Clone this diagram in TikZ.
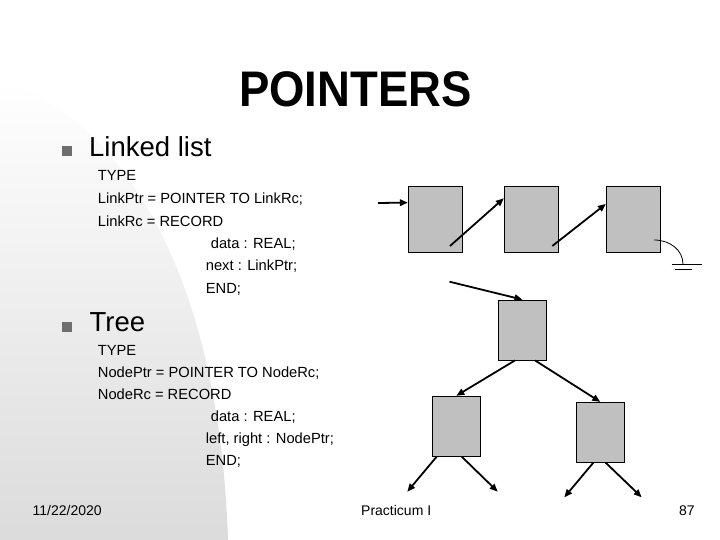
\documentclass[tikz,border=0pt]{standalone}
\usepackage{fontspec}
\setmainfont{Liberation Sans}
\usetikzlibrary{arrows.meta,calc}
\definecolor{boxgray}{HTML}{C0C0C0}
\definecolor{bulletgray}{HTML}{6E6E6E}
\begin{document}
\begin{tikzpicture}[x=1pt,y=-1pt,
  cell/.style={draw=black,line width=0.8pt,fill=boxgray,minimum width=54pt,minimum height=66pt,inner sep=0pt},
  tnode/.style={draw=black,line width=0.8pt,fill=boxgray,minimum width=48pt,minimum height=60pt,inner sep=0pt},
  ptr/.style={line width=1.8pt,-{Triangle[length=8pt,width=6.5pt]}},
  thin line/.style={line width=0.8pt},
  code/.style={anchor=base west,inner sep=0pt,font=\fontsize{14.7}{16}\selectfont},
  head/.style={anchor=base west,inner sep=0pt,font=\fontsize{27.5}{30}\selectfont},
  foot/.style={anchor=base west,inner sep=0pt,font=\fontsize{14}{16}\selectfont},
  bulletsq/.style={fill=bulletgray,minimum size=10pt,inner sep=0pt}]
\useasboundingbox (0,0) rectangle (720,540);
\fill[white] (0,0) rectangle (720,540);
\shade[top color=white,bottom color=black!14] (0,80) .. controls (100,110) and (218,240) .. (228,540) -- (0,540) -- cycle;

% title
\node[anchor=base,inner sep=0pt,font=\bfseries\fontsize{50}{56}\selectfont] (title) at (355.5,106.7) {\scalebox{0.91}[1]{POINTERS}};

% linked list text
\node[bulletsq] (bl1) at (67,151.5) {};
\node[head] (h1) at (89,156.7) {Linked list};
\node[code] (c1) at (97.7,181) {TYPE};
\node[code] (c2) at (97.7,203.5) {LinkPtr = POINTER TO LinkRc;};
\node[code] (c3) at (97.7,226) {LinkRc = RECORD};
\node[code] (c4) at (210.7,248.5) {data : REAL;};
\node[code] (c5) at (205.7,270) {next : LinkPtr;};
\node[code] (c6) at (205.7,293) {END;};

% tree text
\node[bulletsq] (bl2) at (67,326.5) {};
\node[head] (h2) at (89.5,331.7) {Tree};
\node[code] (d1) at (97.7,355) {TYPE};
\node[code] (d2) at (97.7,377) {NodePtr = POINTER TO NodeRc;};
\node[code] (d3) at (97.7,399) {NodeRc = RECORD};
\node[code] (d4) at (210.7,421) {data : REAL;};
\node[code] (d5) at (205.7,443) {left, right : NodePtr;};
\node[code] (d6) at (205.7,465) {END;};

% footer
\node[foot] (date) at (32.5,515) {11/22/2020};
\node[foot] (course) at (361,515) {Practicum I};
\node[foot] (page) at (679,515) {87};

% linked list boxes
\node[cell] (b1) at (435.3,219) {};
\node[cell] (b2) at (531.2,219) {};
\node[cell] (b3) at (633.3,219) {};
\coordinate (in1) at (378,203);
\coordinate (p1) at (450,246);
\coordinate (p2) at (552.3,246);
\coordinate (g0) at (654,240);
\coordinate (g1) at (683,264.3);
\draw[ptr] (in1) -- ([yshift=-17pt]b1.north west);
\draw[ptr] (p1) -- ([yshift=-12.7pt]b2.north west);
\draw[ptr] (p2) -- ([yshift=-18.3pt]b3.north west);
\draw[thin line] (g0) .. controls (670,240) and (683,250) .. (g1);
\draw[thin line] (671.7,264.3) -- (702.3,264.3);
\draw[thin line] (675,269.3) -- (691.7,269.3);

% tree
\node[tnode] (root) at (522.5,330) {};
\node[tnode] (lc) at (456.3,426.2) {};
\node[tnode] (rc) at (600.3,432.3) {};
\coordinate (rt0) at (449.5,281.7);
\coordinate (l1) at (407.3,491.7);
\coordinate (l2) at (497.7,491.7);
\coordinate (r1) at (564.3,497.3);
\coordinate (r2) at (641.7,497.3);
\draw[ptr] (rt0) -- (root.north);
\draw[ptr] ([xshift=-7.5pt]root.south) -- (lc.north);
\draw[ptr] ([xshift=12.5pt]root.south) -- (rc.north);
\draw[ptr] ([xshift=-19.6pt]lc.south) -- (l1);
\draw[ptr] ([xshift=5.4pt]lc.south) -- (l2);
\draw[ptr] ([xshift=-7pt]rc.south) -- (r1);
\draw[ptr] ([xshift=5.4pt]rc.south) -- (r2);
\end{tikzpicture}
\end{document}
